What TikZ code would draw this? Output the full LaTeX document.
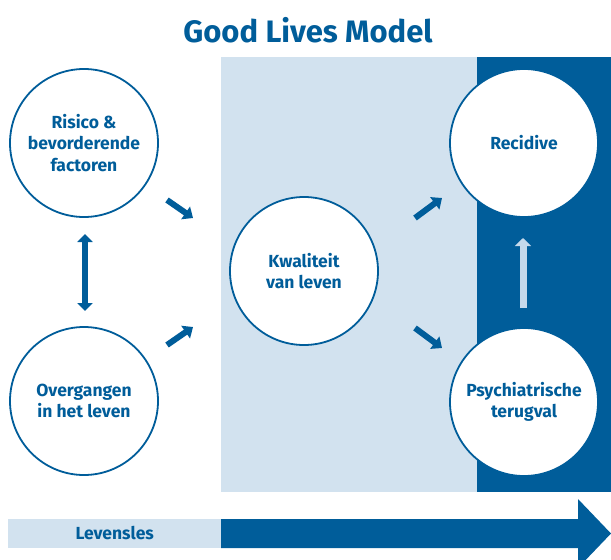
\documentclass[tikz,border=0pt]{standalone}
\usepackage{fontspec}
\setmainfont{Fira Sans}
\usetikzlibrary{arrows.meta}

\definecolor{glmblue}{RGB}{0,93,154}
\definecolor{glmlight}{RGB}{210,226,239}
\definecolor{glmpale}{RGB}{197,217,235}

\tikzset{
  stage/.style={circle, draw=glmblue, line width=1.8pt, fill=white,
    minimum size=148pt, inner sep=0pt, align=center, text=glmblue,
    font=\bfseries\fontsize{17.5}{21.5}\selectfont},
  flow/.style={draw=glmblue, line width=6pt,
    -{Triangle[length=9pt,width=15pt]}},
  mutual/.style={draw=glmblue, line width=6pt,
    {Triangle[length=8pt,width=15pt]}-{Triangle[length=8pt,width=15pt]}},
  lift/.style={draw=glmpale, line width=7pt,
    -{Triangle[length=8pt,width=16pt]}},
}

\begin{document}
\begin{tikzpicture}[x=1pt, y=-1pt]
  \clip (0,0) rectangle (611,560);
  \fill[white] (0,0) rectangle (611,560);

  % title
  \node[text=glmblue, font=\bfseries\fontsize{31}{36}\selectfont] (title)
    at (308,30) {Good Lives Model};

  % background bands
  \fill[glmlight] (221,57) rectangle (477,492);
  \fill[glmblue] (477,57) rectangle (611,492);

  % stages
  \node[stage] (risk)    at (84,143)  {Risico \&\\bevorderende\\factoren};
  \node[stage] (trans)   at (84,401)  {Overgangen\\in het leven};
  \node[stage] (quality) at (304,271) {Kwaliteit\\van leven};
  \node[stage] (relapse) at (524,143) {Recidive};
  \node[stage] (psych)   at (524,402) {Psychiatrische\\terugval};

  % arrow end points between the stages
  \coordinate (rq0) at (167,200);  \coordinate (rq1) at (193,218);
  \coordinate (tq0) at (167,345);  \coordinate (tq1) at (193,327);
  \coordinate (qr0) at (415,218);  \coordinate (qr1) at (442,198);
  \coordinate (qp0) at (415,328);  \coordinate (qp1) at (442,348);
  \coordinate (rt0) at (85,234);   \coordinate (rt1) at (85,311);
  \coordinate (pr0) at (523,308);  \coordinate (pr1) at (523,238);

  \draw[flow] (rq0) -- (rq1);
  \draw[flow] (tq0) -- (tq1);
  \draw[flow] (qr0) -- (qr1);
  \draw[flow] (qp0) -- (qp1);
  \draw[mutual] (rt0) -- (rt1);
  \draw[lift] (pr0) -- (pr1);

  % life course arrow
  \fill[glmblue] (221,519) -- (578,519) -- (578,499) -- (611,533.5)
    -- (578,568) -- (578,548) -- (221,548) -- cycle;
  \node[fill=glmlight, minimum width=213pt, minimum height=29pt,
    inner sep=0pt, anchor=west, text=glmblue,
    font=\bfseries\fontsize{17.5}{21}\selectfont] (lesson)
    at (8,533.5) {Levensles};
\end{tikzpicture}
\end{document}
